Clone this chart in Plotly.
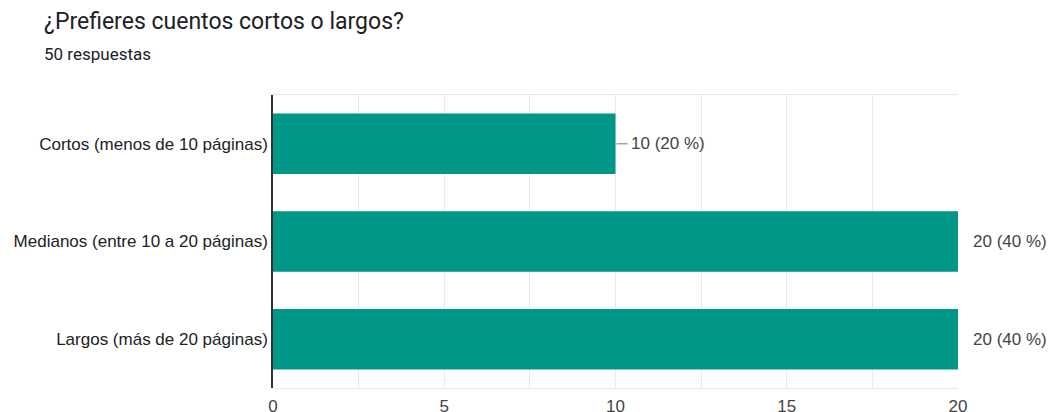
import plotly.graph_objects as go

# Survey data
categories = [
    "Cortos (menos de 10 páginas)",
    "Medianos (entre 10 a 20 páginas)",
    "Largos (más de 20 páginas)",
]
counts = [10, 20, 20]
total = 50
title_text = "¿Prefieres cuentos cortos o largos?"
subtitle_text = f"{total} respuestas"

bar_color = "#009688"
text_color = "#444444"
label_font = "Liberation Sans, Arial, sans-serif"

fig = go.Figure(
    go.Bar(
        x=counts,
        y=categories,
        orientation="h",
        marker=dict(color=bar_color, line=dict(width=0)),
        hoverinfo="skip",
    )
)

# value labels with a short leader line
for cat, val in zip(categories, counts):
    pct = round(val / total * 100)
    fig.add_annotation(
        x=val, y=cat, xref="x", yref="y",
        text=f"{val} ({pct} %)",
        showarrow=False, xanchor="left", yanchor="middle",
        xshift=13,
        font=dict(family=label_font, size=17, color=text_color),
    )
    fig.add_shape(
        type="line", xref="x", yref="y",
        xsizemode="pixel", xanchor=val,
        x0=1, x1=12, y0=cat, y1=cat,
        line=dict(color="#777777", width=1),
    )

# title and response count
fig.add_annotation(
    xref="paper", yref="paper",
    x=(42 - 273) / 685, y=(388 - 21) / 293,
    text=title_text, showarrow=False, xanchor="left", yanchor="middle",
    font=dict(family="Roboto, Arial, sans-serif", size=23, color="#202124"),
)
fig.add_annotation(
    xref="paper", yref="paper",
    x=(42 - 273) / 685, y=(388 - 54) / 293,
    text=subtitle_text, showarrow=False, xanchor="left", yanchor="middle",
    font=dict(family="Roboto, Arial, sans-serif", size=17, color="#202124"),
)

fig.update_layout(
    width=1052, height=412,
    margin=dict(l=273, r=94, t=95, b=24, autoexpand=False),
    paper_bgcolor="white", plot_bgcolor="white",
    bargap=0.38,
    showlegend=False,
    font=dict(family=label_font, size=17, color=text_color),
)

fig.update_xaxes(
    range=[0, 20], dtick=5, tick0=0,
    showgrid=True, gridcolor="#ebebeb", gridwidth=1,
    minor=dict(dtick=2.5, showgrid=True, gridcolor="#ebebeb", gridwidth=1),
    showline=True, linecolor="#e6e6e6", linewidth=1, mirror=True,
    zeroline=False, automargin=False,
    ticks="outside", ticklen=3, tickcolor="rgba(0,0,0,0)",
    tickfont=dict(family=label_font, size=17, color=text_color),
    fixedrange=True,
)
fig.update_yaxes(
    autorange="reversed",
    showline=True, linecolor="#333333", linewidth=1.5,
    showgrid=False, zeroline=False, automargin=False,
    ticks="", ticklabelstandoff=0,
    tickfont=dict(family=label_font, size=17, color="#222222"),
    fixedrange=True,
)

fig.write_html("out.html", config={"displayModeBar": False})
